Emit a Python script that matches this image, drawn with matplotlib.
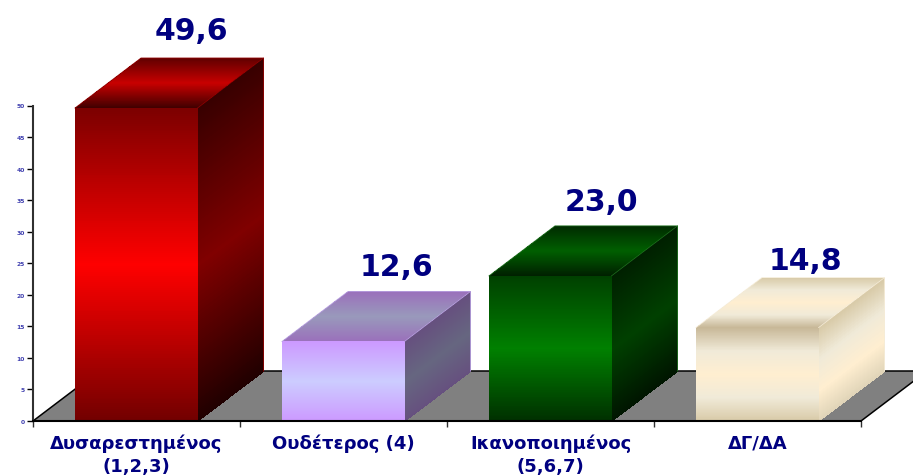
#!/usr/bin/env python
import numpy as np
import matplotlib
matplotlib.use('Agg')
import matplotlib.pyplot as plt
from matplotlib.colors import LinearSegmentedColormap

categories = ['Δυσαρεστημένος\n(1,2,3)', 'Ουδέτερος (4)', 'Ικανοποιημένος\n(5,6,7)', 'ΔΓ/ΔΑ']
values = [49.6, 12.6, 23.0, 14.8]
value_labels = ['49,6', '12,6', '23,0', '14,8']
yticks = [0, 5, 10, 15, 20, 25, 30, 35, 40, 45, 50]

# faces: front, side, top, colours listed bottom to top
face_colors = [
    (['#720000', '#ff0000', '#7c0000'], ['#200000', '#800000', '#380000'], ['#400000', '#c80000', '#600000']),
    (['#cc99ff', '#ccccff', '#cc99ff'], ['#66507f', '#666680', '#66507f'], ['#9a70bb', '#9999bb', '#9a70bb']),
    (['#003000', '#008000', '#004000'], ['#001500', '#004000', '#002000'], ['#002000', '#005f00', '#002a00']),
    (['#d8caa8', '#f0ead8', '#ffeed0', '#f0ead8', '#c8b898'],
     ['#e0d4b8', '#ffeed0', '#f0ead8', '#d8caa8'],
     ['#c8b898', '#f0ead8', '#ffeed0', '#f0ead8', '#d8caa8']),
]
edge_colors = ['#900000', '#b8a0e0', '#207020', '#f5ecd8']

W, H = 913, 477
left, base = 33, 422
px_x = 207.0   # pixels per category
px_y = 6.31    # pixels per unit
depth_x = 66 / px_x
depth_y = 50 / px_y
bar_w = 122.5 / px_x
bar_off = 42 / px_x

# label nudges in pixels from the top of the bar
label_dx = [5, 3, 1, -1.5]
label_dy = [19, 16, 16, 9]


def face(ax, X, Y, colors, z):
    cmap = LinearSegmentedColormap.from_list('f', colors)
    C = (np.arange(X.shape[0] - 1) + 0.5).reshape(-1, 1) / (X.shape[0] - 1)
    ax.pcolormesh(X, Y, C, shading='flat', cmap=cmap, vmin=0, vmax=1, zorder=z)


fig = plt.figure(figsize=(W / 100, H / 100), dpi=100)
ax = fig.add_axes([left / W, (H - base) / H, (W - left) / W, base / H])
ax.set_xlim(0, (W - left) / px_x)
ax.set_ylim(0, base / px_y)

# floor
ax.fill([0, 4, 4 + depth_x, depth_x], [0, 0, depth_y, depth_y], fc='#808080', ec='black', lw=1.1, zorder=1)

t = np.linspace(0, 1, 161)
for i, v in enumerate(values):
    x0 = i + bar_off
    x1 = x0 + bar_w
    front, side, top = face_colors[i]
    # side face
    X = np.column_stack([x1 + 0 * t, x1 + depth_x + 0 * t])
    Y = np.column_stack([t * v, depth_y + t * v])
    face(ax, X, Y, side, 2)
    # top face
    X = np.column_stack([x0 + t * depth_x, x1 + t * depth_x])
    Y = np.column_stack([v + t * depth_y, v + t * depth_y])
    face(ax, X, Y, top, 2)
    # front face
    X = np.column_stack([x0 + 0 * t, x1 + 0 * t])
    Y = np.column_stack([t * v, t * v])
    face(ax, X, Y, front, 3)
    # thin outline on the slanted and back edges
    ax.plot([x0, x0 + depth_x, x1 + depth_x, x1 + depth_x],
            [v, v + depth_y, v + depth_y, depth_y],
            c=edge_colors[i], lw=0.6, zorder=4)
    ax.plot([x1, x1 + depth_x], [v, v + depth_y], c=edge_colors[i], lw=0.5, zorder=4)
    xc = i + 0.5 + depth_x * 0.75
    ax.annotate(value_labels[i], (xc, v + depth_y), xytext=(label_dx[i] * 0.72, label_dy[i] * 0.72),
                textcoords='offset points', ha='center', va='baseline',
                fontsize=21.5, fontweight='bold', color='#000080', zorder=6)

for s in ['top', 'right']:
    ax.spines[s].set_visible(False)
ax.spines['left'].set_bounds(0, 50)
ax.spines['left'].set_linewidth(1.5)
ax.spines['left'].set_color('#303030')
ax.spines['bottom'].set_bounds(0, 4)
ax.spines['bottom'].set_linewidth(1.5)
ax.spines['bottom'].set_zorder(5)

ax.set_yticks(yticks)
ax.tick_params(axis='y', length=4.3, width=1, pad=1.5, labelsize=4.3, labelcolor='#4040b0')
for lab in ax.get_yticklabels():
    lab.set_fontweight('bold')

ax.set_xticks(range(5))
ax.set_xticklabels([])
ax.tick_params(axis='x', which='major', length=4, width=1, color='#303030')
ax.set_xticks([i + 0.5 for i in range(4)], minor=True)
ax.set_xticklabels(categories, minor=True, fontsize=13, fontweight='bold', color='#000080', linespacing=1.37)
ax.tick_params(axis='x', which='minor', length=0, pad=9)

fig.savefig('out.png', dpi=100)
